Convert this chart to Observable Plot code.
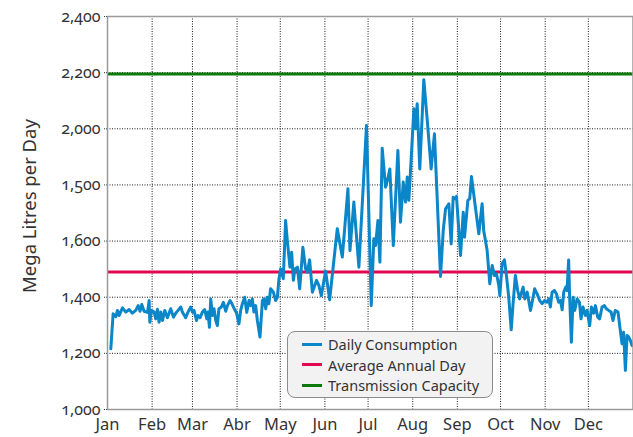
<!DOCTYPE html>
<html>
<head>
<meta charset="utf-8">
<script src="https://cdn.jsdelivr.net/npm/d3@7"></script>
<script src="https://cdn.jsdelivr.net/npm/@observablehq/plot@0.6"></script>
<style>
  body { margin: 0; background: #fff; }
  #chart { position: relative; width: 633px; height: 437px; font-family: "Noto Sans", "Open Sans", sans-serif; color: #333; }
  #chart svg { position: absolute; left: 0; top: 0; font-variant-numeric: oldstyle-nums; font-feature-settings: "onum" 1; }
  #ytitle { position: absolute; left: 28px; top: 206px; transform: translate(-50%, -50%) rotate(-90deg); font-size: 18.5px; white-space: nowrap; color: #333; }
  #legend { position: absolute; left: 287px; top: 331px; width: 204px; height: 65px; border: 1px solid #8c8c8c; border-radius: 8px; background: #f2f2f2; }
  #legend .row { position: absolute; left: 14px; height: 20px; display: flex; align-items: center; font-size: 14.5px; color: #333; }
  #legend .sw { width: 20px; height: 3px; margin-right: 6px; }
</style>
</head>
<body>
<div id="chart">
  <div id="ytitle">Mega Litres per Day</div>
</div>
<script>
// Daily consumption, day of year (0 = 1 Jan) and mega litres per day
const day = [
  2.3, 3.9, 5.8, 6.9, 8.1, 10.4, 12.7, 15.0, 17.3, 19.6, 21.3, 22.6, 23.8, 25.4, 27.8, 28.9, 29.4, 30.5,
  32.4, 33.5, 34.7, 35.8, 37.0, 38.2, 39.8, 41.6, 43.9, 45.8, 47.4, 49.0, 50.9, 52.0, 54.3, 55.9, 57.8,
  59.0, 60.1, 61.8, 62.9, 64.3, 65.9, 67.5, 69.0, 69.8, 70.8, 71.7, 72.9, 74.0, 75.2, 76.3, 77.4, 79.1,
  80.5, 82.1, 83.3, 85.1, 86.7, 88.3, 89.7, 91.3, 92.5, 93.7, 95.3, 96.7, 98.3, 99.4, 100.6, 101.7,
  102.9, 104.1, 105.9, 107.6, 108.7, 109.9, 111.0, 112.1, 113.3, 115.2, 116.8, 118.0, 119.1, 120.3,
  122.1, 123.7, 124.9, 126.7, 127.9, 129.1, 130.2, 131.9, 133.5, 135.7, 137.6, 138.8, 140.4, 142.3,
  145.2, 146.8, 148.5, 151.5, 154.3, 159.6, 163.1, 167.0, 168.4, 171.1, 174.6, 179.9, 183.2, 185.0,
  186.2, 187.8, 189.2, 190.8, 193.1, 194.7, 196.1, 198.5, 201.7, 203.5, 205.4, 207.0, 208.2, 209.3,
  211.0, 212.8, 214.0, 215.1, 216.9, 219.7, 222.1, 224.8, 227.1, 231.3, 233.2, 234.8, 237.1, 238.7,
  240.1, 241.2, 242.4, 245.2, 247.1, 248.0, 250.3, 251.6, 252.8, 257.9, 260.2, 261.3, 263.7, 265.5,
  267.2, 268.8, 270.2, 271.8, 272.5, 274.1, 275.7, 277.1, 278.7, 280.4, 281.7, 283.3, 284.9, 286.3,
  287.3, 288.7, 289.8, 291.5, 293.8, 295.6, 296.7, 298.4, 300.2, 301.9, 303.5, 305.3, 306.5, 307.6,
  308.8, 310.4, 311.8, 313.4, 314.6, 315.8, 316.9, 318.3, 319.2, 320.3, 321.0, 322.2, 323.4, 324.5,
  326.2, 327.8, 328.9, 330.3, 331.9, 333.1, 334.9, 336.1, 337.7, 338.9, 340.5, 341.8, 343.5, 345.1,
  346.5, 348.1, 349.8, 351.1, 352.7, 354.6, 356.2, 357.4, 358.5, 359.7, 360.9, 362.0, 363.2, 364.3
];
const mlpd = [
  1216, 1341, 1331, 1353, 1335, 1362, 1347, 1356, 1343, 1353, 1370, 1350, 1374, 1350, 1346, 1388, 1311, 1353,
  1347, 1323, 1357, 1311, 1347, 1317, 1353, 1327, 1359, 1329, 1343, 1353, 1365, 1347, 1327, 1347, 1365,
  1347, 1353, 1317, 1335, 1327, 1347, 1356, 1323, 1347, 1293, 1394, 1335, 1359, 1317, 1299, 1359, 1365,
  1382, 1350, 1370, 1388, 1374, 1356, 1343, 1305, 1353, 1377, 1400, 1346, 1388, 1370, 1394, 1347,
  1370, 1317, 1258, 1388, 1394, 1359, 1400, 1377, 1430, 1418, 1388, 1400, 1466, 1501,
  1466, 1673, 1602, 1507, 1560, 1460, 1501, 1507, 1430, 1578, 1501, 1489, 1533, 1418,
  1460, 1442, 1406, 1493, 1391, 1644, 1543, 1786, 1566, 1739, 1507, 2012, 1370, 1608,
  1584, 1673, 1525, 1931, 1792, 1822, 1857, 1584, 1923, 1667, 1810, 1739, 1828, 1745,
  1899, 2071, 2000, 2089, 1857, 2175, 2030, 1857, 1982, 1474, 1638, 1715, 1733, 1590,
  1756, 1751, 1759, 1549, 1703, 1614, 1745, 1751, 1830, 1626, 1733, 1638, 1566, 1448,
  1513, 1477, 1483, 1442, 1406, 1519, 1533, 1477, 1400, 1284, 1377, 1477, 1424, 1394,
  1412, 1436, 1394, 1418, 1353, 1400, 1430, 1412, 1388, 1377, 1388, 1382, 1394, 1365,
  1418, 1424, 1412, 1382, 1388, 1355, 1418, 1436, 1424, 1533, 1400, 1240, 1400, 1353,
  1394, 1382, 1323, 1365, 1335, 1353, 1299, 1365, 1343, 1370, 1329, 1323, 1365, 1370,
  1359, 1353, 1347, 1317, 1353, 1347, 1281, 1234, 1275, 1139, 1264, 1258, 1246, 1228
];

const averageAnnualDay = 1490;
const transmissionCapacity = 2195;

const monthLabels = ["Jan", "Feb", "Mar", "Abr", "May", "Jun", "Jul", "Aug", "Sep", "Oct", "Nov", "Dec"];
const yTicks = [1000, 1200, 1400, 1600, 1800, 2000, 2200, 2400];
const yTickLabels = ["1,000", "1,200", "1,400", "1,600", "1,500", "2,000", "2,200", "2,400"];

const seriesNames = ["Daily Consumption", "Average Annual Day", "Transmission Capacity"];
const seriesColors = ["#0a86c9", "#e0064f", "#0b7a0b"];

const yearStart = new Date(Date.UTC(2011, 0, 1));
const yearEnd = new Date(Date.UTC(2012, 0, 1));
const data = day.map((d, i) => ({date: new Date(+yearStart + d * 864e5), value: mlpd[i]}));
const monthStarts = d3.utcMonths(yearStart, yearEnd);

const gridStyle = {stroke: "#000", strokeOpacity: 0.9, strokeDasharray: "1,1.5", strokeWidth: 1};

const chart = Plot.plot({
  width: 633,
  height: 437,
  marginLeft: 107,
  marginRight: 0.5,
  marginTop: 16,
  marginBottom: 28,
  style: {fontFamily: "'Noto Sans', 'Open Sans', sans-serif", fontSize: "16px", color: "#333", background: "transparent"},
  x: {type: "utc", domain: [yearStart, yearEnd]},
  y: {domain: [1000, 2400]},
  marks: [
    Plot.gridX(monthStarts, gridStyle),
    Plot.gridY(yTicks, gridStyle),
    Plot.axisX(monthStarts, {tickSize: 0, tickPadding: 9, fontSize: 16.5, tickFormat: d => monthLabels[d.getUTCMonth()], label: null}),
    Plot.axisY(yTicks, {tickSize: 4, tickPadding: 3, fontSize: 16, stroke: "#333", strokeDasharray: "1,1", tickFormat: d => yTickLabels[yTicks.indexOf(d)], label: null}),
    Plot.ruleY([averageAnnualDay], {stroke: seriesColors[1], strokeWidth: 3}),
    Plot.ruleY([transmissionCapacity], {stroke: seriesColors[2], strokeWidth: 3}),
    Plot.lineY(data, {x: "date", y: "value", stroke: seriesColors[0], strokeWidth: 3, strokeLinejoin: "round"}),
    Plot.frame({stroke: "#9a9a9a", strokeWidth: 1.5})
  ]
});
document.getElementById("chart").prepend(chart);

// Legend box inside the plot area
const legend = document.createElement("div");
legend.id = "legend";
seriesNames.forEach((name, i) => {
  const row = document.createElement("div");
  row.className = "row";
  row.style.top = (2 + i * 20.5) + "px";
  row.innerHTML = `<span class="sw" style="background:${seriesColors[i]}"></span><span>${name}</span>`;
  legend.appendChild(row);
});
document.getElementById("chart").appendChild(legend);
</script>
</body>
</html>
